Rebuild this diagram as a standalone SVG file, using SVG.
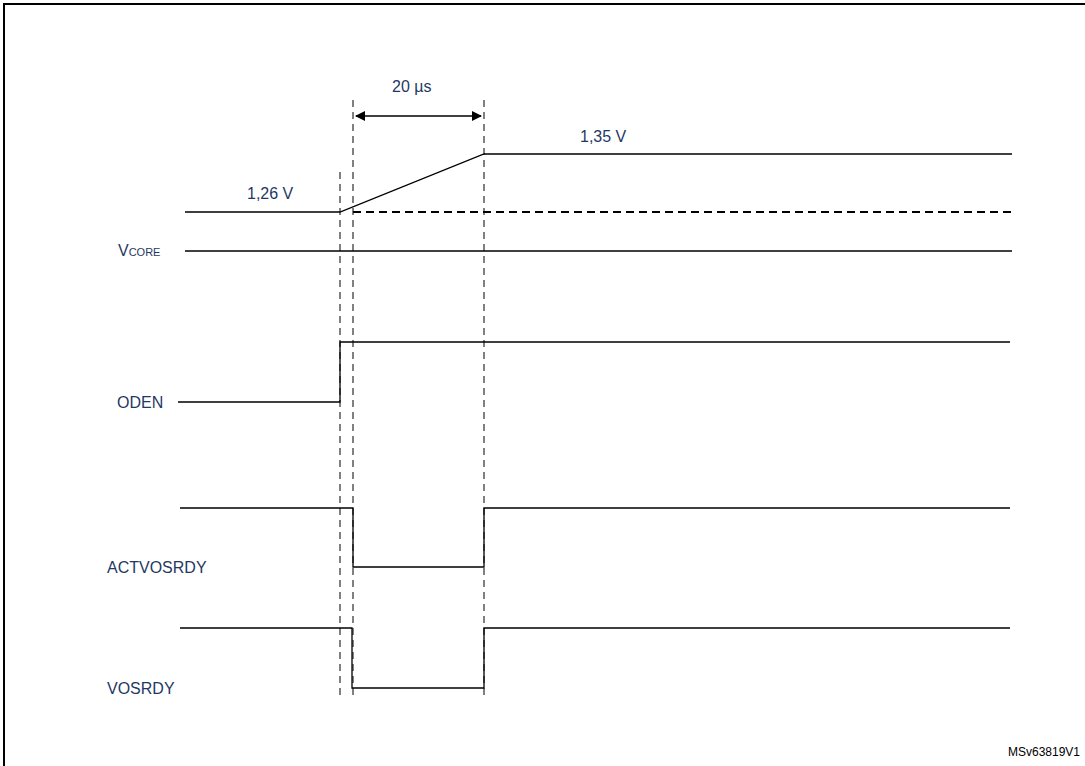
<svg xmlns="http://www.w3.org/2000/svg" width="1085" height="766" viewBox="0 0 1085 766">
<style>
.s{fill:none;stroke:#000;stroke-width:1.3}
.d{fill:none;stroke:#000;stroke-width:1;stroke-dasharray:7,5}
.t{font-family:"Liberation Sans",Arial,sans-serif;font-size:16px;fill:#1f3864}
</style>
<defs><marker id="a" markerWidth="10" markerHeight="10" refX="9" refY="5" orient="auto-start-reverse" markerUnits="userSpaceOnUse"><path d="M0,0 L10,5 L0,10 z" fill="#000"/></marker></defs>
<rect x="4" y="4" width="1090" height="780" fill="#fff" stroke="#000" stroke-width="2"/>
<g id="connectors">
<line class="d" x1="340" y1="172" x2="340" y2="696"/>
<line class="d" x1="353" y1="100" x2="353" y2="696"/>
<line class="d" x1="484" y1="100" x2="484" y2="696"/>
<line class="s" x1="356" y1="116" x2="481" y2="116" marker-start="url(#a)" marker-end="url(#a)"/>
</g>
<g id="vcore">
<polyline class="s" points="185,212 340,212 484,154 1012,154"/>
<line x1="353" y1="212" x2="1012" y2="212" stroke="#000" stroke-width="2" stroke-dasharray="8,5"/>
<line class="s" x1="185" y1="251" x2="1012" y2="251"/>
<text class="t" x="118" y="256">V<tspan font-size="11">CORE</tspan></text>
<text class="t" x="247" y="199">1,26 V</text>
<text class="t" x="580" y="142">1,35 V</text>
<text class="t" x="392" y="92">20 µs</text>
</g>
<g id="oden">
<polyline class="s" points="178,402 340,402 340,342 1010,342"/>
<text class="t" x="117" y="408">ODEN</text>
</g>
<g id="actvosrdy">
<polyline class="s" points="180,508 353,508 353,567 484,567 484,508 1010,508"/>
<text class="t" x="107" y="573">ACTVOSRDY</text>
</g>
<g id="vosrdy">
<polyline class="s" points="180,628 352,628 352,688 484,688 484,628 1010,628"/>
<text class="t" x="107" y="694">VOSRDY</text>
</g>
<text x="1080" y="756" text-anchor="end" font-family="Liberation Sans,Arial,sans-serif" font-size="12" fill="#000">MSv63819V1</text>
</svg>
